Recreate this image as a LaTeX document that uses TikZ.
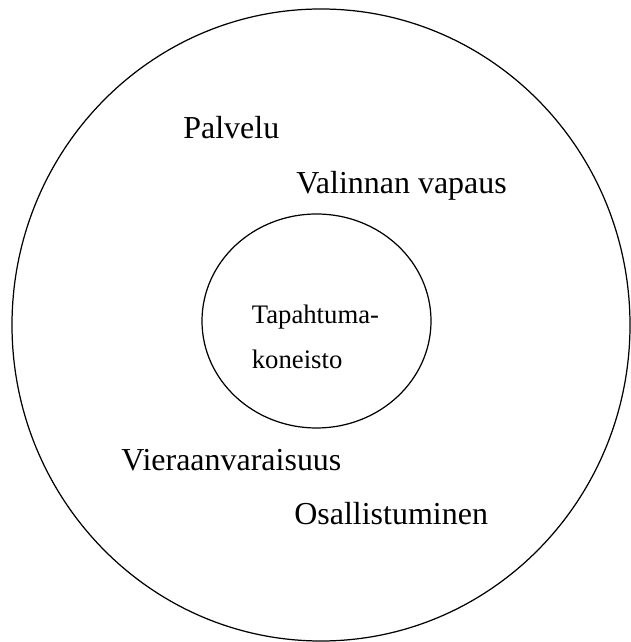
\documentclass[tikz,border=0pt]{standalone}
\usepackage{fontspec}
\setmainfont{Liberation Serif}
\usepackage{tikz}

\begin{document}
\begin{tikzpicture}[x=0.02cm,y=0.02cm,
    label/.style={anchor=base west,inner sep=0pt,font=\fontsize{18.2}{21}\selectfont},
    core/.style={anchor=base west,inner sep=0pt,font=\fontsize{15.2}{18}\selectfont}]
  \useasboundingbox (0,0) rectangle (631,642);
  % Cercles
  \draw[line width=0.7pt] (321,317) ellipse (309 and 316);
  \draw[line width=0.7pt] (316.5,321) ellipse (114.5 and 107);
  % Nucli
  \node[core] (tapahtuma) at (251.5,318.5) {Tapahtuma-};
  \node[core] (koneisto)  at (251.5,273.5) {koneisto};
  % Anell exterior
  \node[label] (palvelu) at (183,503) {Palvelu};
  \node[label] (valinta) at (296,448) {Valinnan vapaus};
  \node[label] (vieraan) at (121,171) {Vieraanvaraisuus};
  \node[label] (osallis) at (294,117) {Osallistuminen};
\end{tikzpicture}
\end{document}
